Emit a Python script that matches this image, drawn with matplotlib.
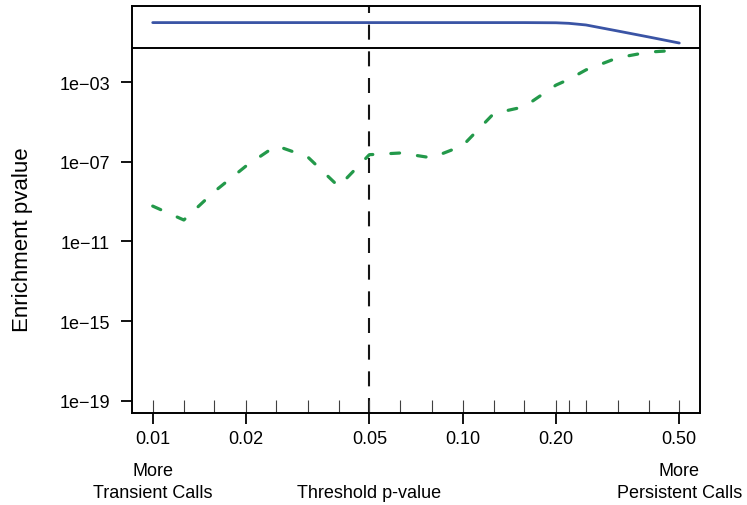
import matplotlib
matplotlib.use('Agg')
import matplotlib.pyplot as plt
from matplotlib.ticker import NullLocator

plt.rcParams['font.family'] = ['Liberation Sans', 'DejaVu Sans']
plt.rcParams['lines.scale_dashes'] = False

# tested thresholds (also shown as a rug on the x axis)
thresholds = [0.01, 0.0126, 0.0158, 0.02, 0.025, 0.0316, 0.0398, 0.05, 0.063,
              0.0794, 0.1, 0.126, 0.158, 0.2, 0.22, 0.25, 0.316, 0.398, 0.5]
# enrichment p-values
green_p = [6.0e-10, 1.2e-10, 3.2e-9, 6.2e-8, 6.5e-7, 1.8e-7, 5.8e-9, 2.3e-7, 2.8e-7,
           1.6e-7, 6.5e-7, 2.7e-5, 5.9e-5, 7.2e-4, 1.4e-3, 4.2e-3, 0.017, 0.033, 0.041]
blue_p = [1.0, 1.0, 1.0, 1.0, 1.0, 1.0, 1.0, 1.0, 1.0,
          1.0, 1.0, 1.0, 1.0, 0.98, 0.92, 0.76, 0.38, 0.19, 0.094]

x_ticks = [0.01, 0.02, 0.05, 0.1, 0.2, 0.5]
x_labels = ['0.01', '0.02', '0.05', '0.10', '0.20', '0.50']
y_ticks = [1e-3, 1e-7, 1e-11, 1e-15, 1e-19]
y_labels = ['1e\u221203', '1e\u221207', '1e\u221211', '1e\u221215', '1e\u221219']
cutoff = 0.05

W, H = 747, 506
fig = plt.figure(figsize=(W / 100, H / 100), dpi=100)
ax = fig.add_axes([131.7 / W, (H - 414) / H, (699.5 - 131.7) / W, (414 - 7.3) / H])

ax.set_xscale('log')
ax.set_yscale('log')
ax.set_xlim(10 ** -2.0678, 10 ** -0.2358)
ax.set_ylim(10 ** -19.62, 10 ** 0.819)

ax.plot(thresholds, blue_p, color='#3a54a5', lw=2.0, solid_capstyle='round')
ax.plot(thresholds, green_p, color='#23994a', lw=2.3,
        linestyle=(0, (6.3, 13.0)), dash_capstyle='round')

ax.axhline(cutoff, color='black', lw=1.4)
ax.axvline(cutoff, color='#151515', lw=1.5, linestyle=(0, (10.8, 8.4)))

# rug of thresholds
ax.vlines(thresholds, 0, 13 / 406.7, transform=ax.get_xaxis_transform(),
          color='#404040', lw=0.8)

ax.xaxis.set_minor_locator(NullLocator())
ax.yaxis.set_minor_locator(NullLocator())
ax.set_xticks(x_ticks)
ax.set_xticklabels(x_labels)
ax.set_yticks(y_ticks)
ax.set_yticklabels(y_labels)
ax.tick_params(axis='both', direction='out', length=7.9, width=1.3,
               labelsize=13, color='black')
ax.tick_params(axis='x', pad=4)
ax.tick_params(axis='y', pad=7.7)
for sp in ax.spines.values():
    sp.set_linewidth(1.4)

fig.text(23 / W, 1 - 240 / H, 'Enrichment pvalue', rotation=90,
         ha='center', va='center', fontsize=16)

fig.text(152.7 / W, 1 - 476 / H, 'More', ha='center', va='baseline', fontsize=13)
fig.text(152.7 / W, 1 - 497.7 / H, 'Transient Calls', ha='center', va='baseline', fontsize=13)
fig.text(369.3 / W, 1 - 497.7 / H, 'Threshold p-value', ha='center', va='baseline', fontsize=13)
fig.text(679.3 / W, 1 - 476 / H, 'More', ha='center', va='baseline', fontsize=13)
fig.text(679.3 / W, 1 - 497.7 / H, 'Persistent Calls', ha='center', va='baseline', fontsize=13)

fig.savefig('out.png', dpi=100)
